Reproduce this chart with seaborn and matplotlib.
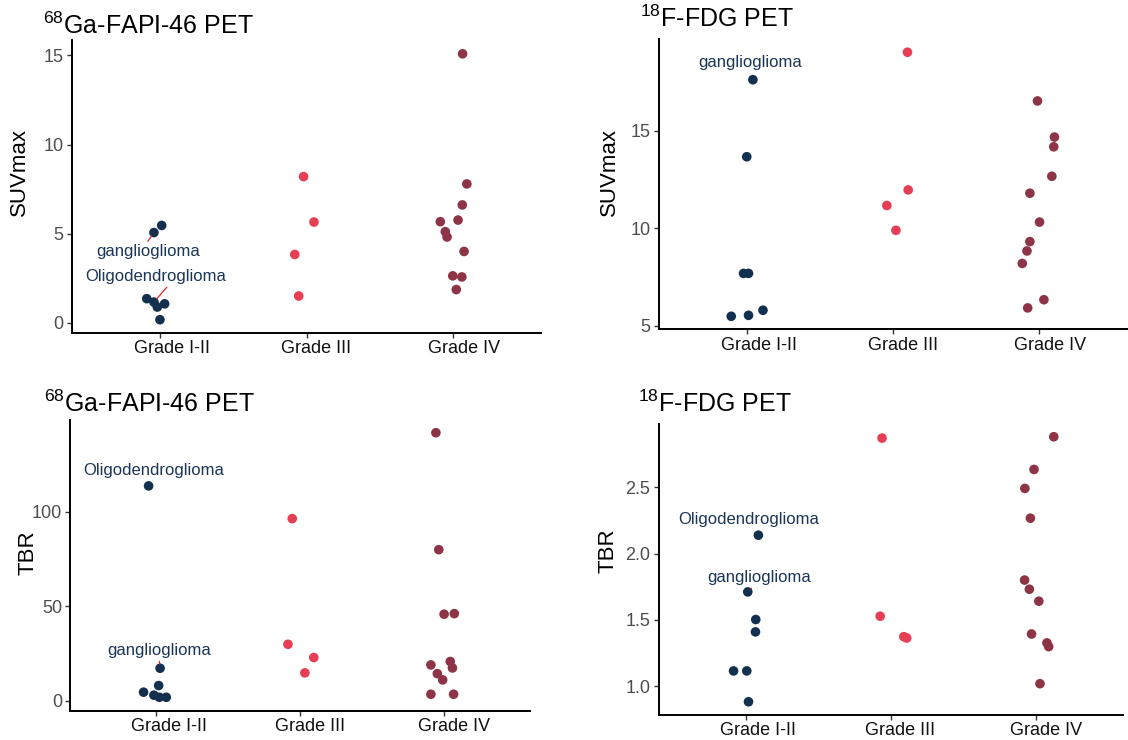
import numpy as np
import pandas as pd
import matplotlib
matplotlib.use("Agg")
import matplotlib.pyplot as plt
import matplotlib.transforms as mtransforms
from matplotlib.ticker import FixedLocator, FormatStrFormatter
import seaborn as sns

# ---------------- data ----------------
grades = ["Grade I-II", "Grade III", "Grade IV"]
grade_colors = ["#14304F", "#E63E55", "#8E3447"]

# 68Ga-FAPI-46 PET, SUVmax
fapi_suv_g12 = [5.46, 5.06, 1.35, 1.16, 0.88, 1.06, 0.17]
fapi_suv_g12_jit = [0.012, -0.041, -0.090, -0.041, -0.018, 0.032, 0.0]
fapi_suv_g3 = [8.20, 5.65, 3.83, 1.50]
fapi_suv_g3_jit = [-0.020, 0.051, -0.080, -0.053]
fapi_suv_g4 = [15.09, 7.79, 6.61, 5.67, 5.76, 5.11, 4.81, 4.00, 2.63, 2.57, 1.86]
fapi_suv_g4_jit = [0.065, 0.094, 0.063, -0.087, 0.034, -0.053, -0.041, 0.075, -0.002, 0.060, 0.022]

# 18F-FDG PET, SUVmax
fdg_suv_g12 = [17.62, 13.67, 7.69, 7.69, 5.49, 5.54, 5.80]
fdg_suv_g12_jit = [0.042, 0.0, -0.022, 0.012, -0.106, 0.012, 0.111]
fdg_suv_g3 = [19.03, 11.97, 11.17, 9.90]
fdg_suv_g3_jit = [0.099, 0.104, -0.042, 0.020]
fdg_suv_g4 = [16.53, 14.68, 14.18, 12.67, 11.80, 10.32, 9.32, 8.84, 8.20, 6.34, 5.92]
fdg_suv_g4_jit = [-0.012, 0.104, 0.099, 0.086, -0.064, 0.002, -0.064, -0.084, -0.116, 0.032, -0.079]

# 68Ga-FAPI-46 PET, TBR
fapi_tbr_g12 = [113.6, 17.25, 8.1, 4.6, 3.0, 1.9, 1.9]
fapi_tbr_g12_jit = [-0.055, 0.025, 0.015, -0.090, -0.018, 0.020, 0.068]
fapi_tbr_g3 = [96.3, 29.9, 22.9, 14.8]
fapi_tbr_g3_jit = [-0.055, -0.085, 0.095, 0.033]
fapi_tbr_g4 = [141.7, 79.9, 45.8, 46.1, 20.8, 19.0, 17.4, 14.4, 11.1, 3.5, 3.5]
fapi_tbr_g4_jit = [-0.055, -0.035, 0.002, 0.073, 0.045, -0.090, 0.060, -0.045, -0.008, -0.090, 0.068]

# 18F-FDG PET, TBR
fdg_tbr_g12 = [2.138, 1.711, 1.503, 1.410, 1.116, 1.116, 0.884]
fdg_tbr_g12_jit = [0.088, 0.015, 0.070, 0.068, -0.083, 0.008, 0.020]
fdg_tbr_g3 = [2.869, 1.528, 1.374, 1.364]
fdg_tbr_g3_jit = [-0.060, -0.073, 0.090, 0.110]
fdg_tbr_g4 = [2.879, 2.633, 2.490, 2.266, 1.800, 1.731, 1.641, 1.394, 1.327, 1.299, 1.020]
fdg_tbr_g4_jit = [0.123, -0.013, -0.076, -0.038, -0.078, -0.045, 0.020, -0.030, 0.076, 0.088, 0.028]

# labelled Grade I-II cases: (text, index in Grade I-II list, text x offset, text y, segment, segment start)
fapi_suv_labels = [("ganglioglioma", 1, -0.084, 3.97, True, (0.48, 1.0)),
                   ("Oligodendroglioma", 3, -0.030, 2.60, True, (0.60, 0.0))]
fdg_suv_labels = [("ganglioglioma", 0, 0.025, 18.52, False, None)]
fapi_tbr_labels = [("Oligodendroglioma", 0, -0.018, 121.5, False, None),
                   ("ganglioglioma", 1, 0.018, 26.6, True, (0.5, 0.0))]
fdg_tbr_labels = [("Oligodendroglioma", 0, 0.023, 2.259, False, None),
                  ("ganglioglioma", 1, 0.093, 1.819, True, (0.46, 0.0))]

titles = [r"$\mathregular{^{68}}$Ga-FAPI-46 PET", r"$\mathregular{^{18}}$F-FDG PET",
          r"$\mathregular{^{68}}$Ga-FAPI-46 PET", r"$\mathregular{^{18}}$F-FDG PET"]
ylabels = ["SUVmax", "SUVmax", "TBR", "TBR"]
yticks_list = [[0, 5, 10, 15], [5, 10, 15], [0, 50, 100], [1.0, 1.5, 2.0, 2.5]]

# ---------------- style ----------------
sns.set_theme(style="ticks")
plt.rcParams["font.family"] = ["Liberation Sans", "DejaVu Sans"]
plt.rcParams["mathtext.fontset"] = "custom"
plt.rcParams["mathtext.rm"] = "Liberation Sans"

W, H = 1128, 740
fig = plt.figure(figsize=(W / 100, H / 100), dpi=100)
fig.patch.set_facecolor("white")

# pixel layout: (x0, y0, x1, y1) of each panel, title (x, baseline), ylabel centre
layout = [
    dict(box=(72, 40.5, 541, 333), title=(43, 33.5), ylab=(19.5, 172)),
    dict(box=(659, 39, 1127, 329.5), title=(640, 27), ylab=(609, 172)),
    dict(box=(70.3, 419.5, 530, 710.5), title=(43.5, 412.5), ylab=(28, 553)),
    dict(box=(658.5, 423.5, 1123, 715), title=(637.5, 412.5), ylab=(608, 551)),
]

panels = [
    ([fapi_suv_g12, fapi_suv_g3, fapi_suv_g4], [fapi_suv_g12_jit, fapi_suv_g3_jit, fapi_suv_g4_jit], fapi_suv_labels),
    ([fdg_suv_g12, fdg_suv_g3, fdg_suv_g4], [fdg_suv_g12_jit, fdg_suv_g3_jit, fdg_suv_g4_jit], fdg_suv_labels),
    ([fapi_tbr_g12, fapi_tbr_g3, fapi_tbr_g4], [fapi_tbr_g12_jit, fapi_tbr_g3_jit, fapi_tbr_g4_jit], fapi_tbr_labels),
    ([fdg_tbr_g12, fdg_tbr_g3, fdg_tbr_g4], [fdg_tbr_g12_jit, fdg_tbr_g3_jit, fdg_tbr_g4_jit], fdg_tbr_labels),
]

label_color = "#1A3556"
seg_color = "#E3242B"
palette = dict(zip(grades, grade_colors))
xoffset = mtransforms.ScaledTranslation(-25.5 / 100, 0, fig.dpi_scale_trans)

for i, (vals, jits, labels) in enumerate(panels):
    lay = layout[i]
    x0, y0, x1, y1 = lay["box"]
    ax = fig.add_axes([x0 / W, 1 - y1 / H, (x1 - x0) / W, (y1 - y0) / H])

    rows = []
    for g, (v, j) in enumerate(zip(vals, jits)):
        for vv, jj in zip(v, j):
            rows.append((grades[g], g + 1 + jj, vv))
    df = pd.DataFrame(rows, columns=["grade", "xpos", "value"])

    sns.scatterplot(data=df, x="xpos", y="value", hue="grade", hue_order=grades,
                    palette=palette, s=48, linewidth=0, legend=False, ax=ax,
                    zorder=3, clip_on=False)

    allv = np.concatenate([np.asarray(v, float) for v in vals])
    lo, hi = allv.min(), allv.max()
    rng = hi - lo
    ax.set_ylim(lo - 0.05 * rng, hi + 0.05 * rng)
    ax.set_xlim(0.4, 3.6)

    ax.xaxis.set_major_locator(FixedLocator([1, 2, 3]))
    ax.set_xticklabels(grades)
    ax.yaxis.set_major_locator(FixedLocator(yticks_list[i]))
    if i == 3:
        ax.yaxis.set_major_formatter(FormatStrFormatter("%.1f"))
    else:
        ax.yaxis.set_major_formatter(FormatStrFormatter("%g"))

    ax.set_xlabel("")
    ax.set_ylabel("")
    for side in ["top", "right"]:
        ax.spines[side].set_visible(False)
    for side in ["left", "bottom"]:
        ax.spines[side].set_linewidth(1.4)
        ax.spines[side].set_color("black")
    ax.tick_params(axis="both", length=3.6, width=1.0, color="#333333", labelsize=13)
    ax.tick_params(axis="y", pad=2.4, labelcolor="#4D4D4D")
    ax.tick_params(axis="x", pad=1.6, labelcolor="#111111")
    ax.set_facecolor("white")

    for lab in ax.get_xticklabels():
        lab.set_horizontalalignment("left")
        lab.set_transform(lab.get_transform() + xoffset)

    # annotations
    g12_vals, g12_jit = vals[0], jits[0]
    for text, idx, tx, ty, seg, relpos in labels:
        px, py = 1 + g12_jit[idx], g12_vals[idx]
        if seg:
            ax.annotate(text, xy=(px, py), xytext=(1 + tx, ty), ha="center", va="center",
                        fontsize=12, color=label_color, zorder=4,
                        arrowprops=dict(arrowstyle="-", color=seg_color, lw=0.9,
                                        shrinkA=0, shrinkB=3, relpos=relpos))
        else:
            ax.text(1 + tx, ty, text, ha="center", va="center", fontsize=12,
                    color=label_color, zorder=4)

    # title and y label
    tx_, tb_ = lay["title"]
    fig.text(tx_ / W, 1 - tb_ / H, titles[i], ha="left", va="baseline",
             fontsize=18, color="black")
    lx, ly = lay["ylab"]
    fig.text(lx / W, 1 - ly / H, ylabels[i], rotation=90, ha="center", va="center",
             rotation_mode="anchor", fontsize=16, color="black")

fig.savefig("out.png", dpi=100, facecolor="white")
